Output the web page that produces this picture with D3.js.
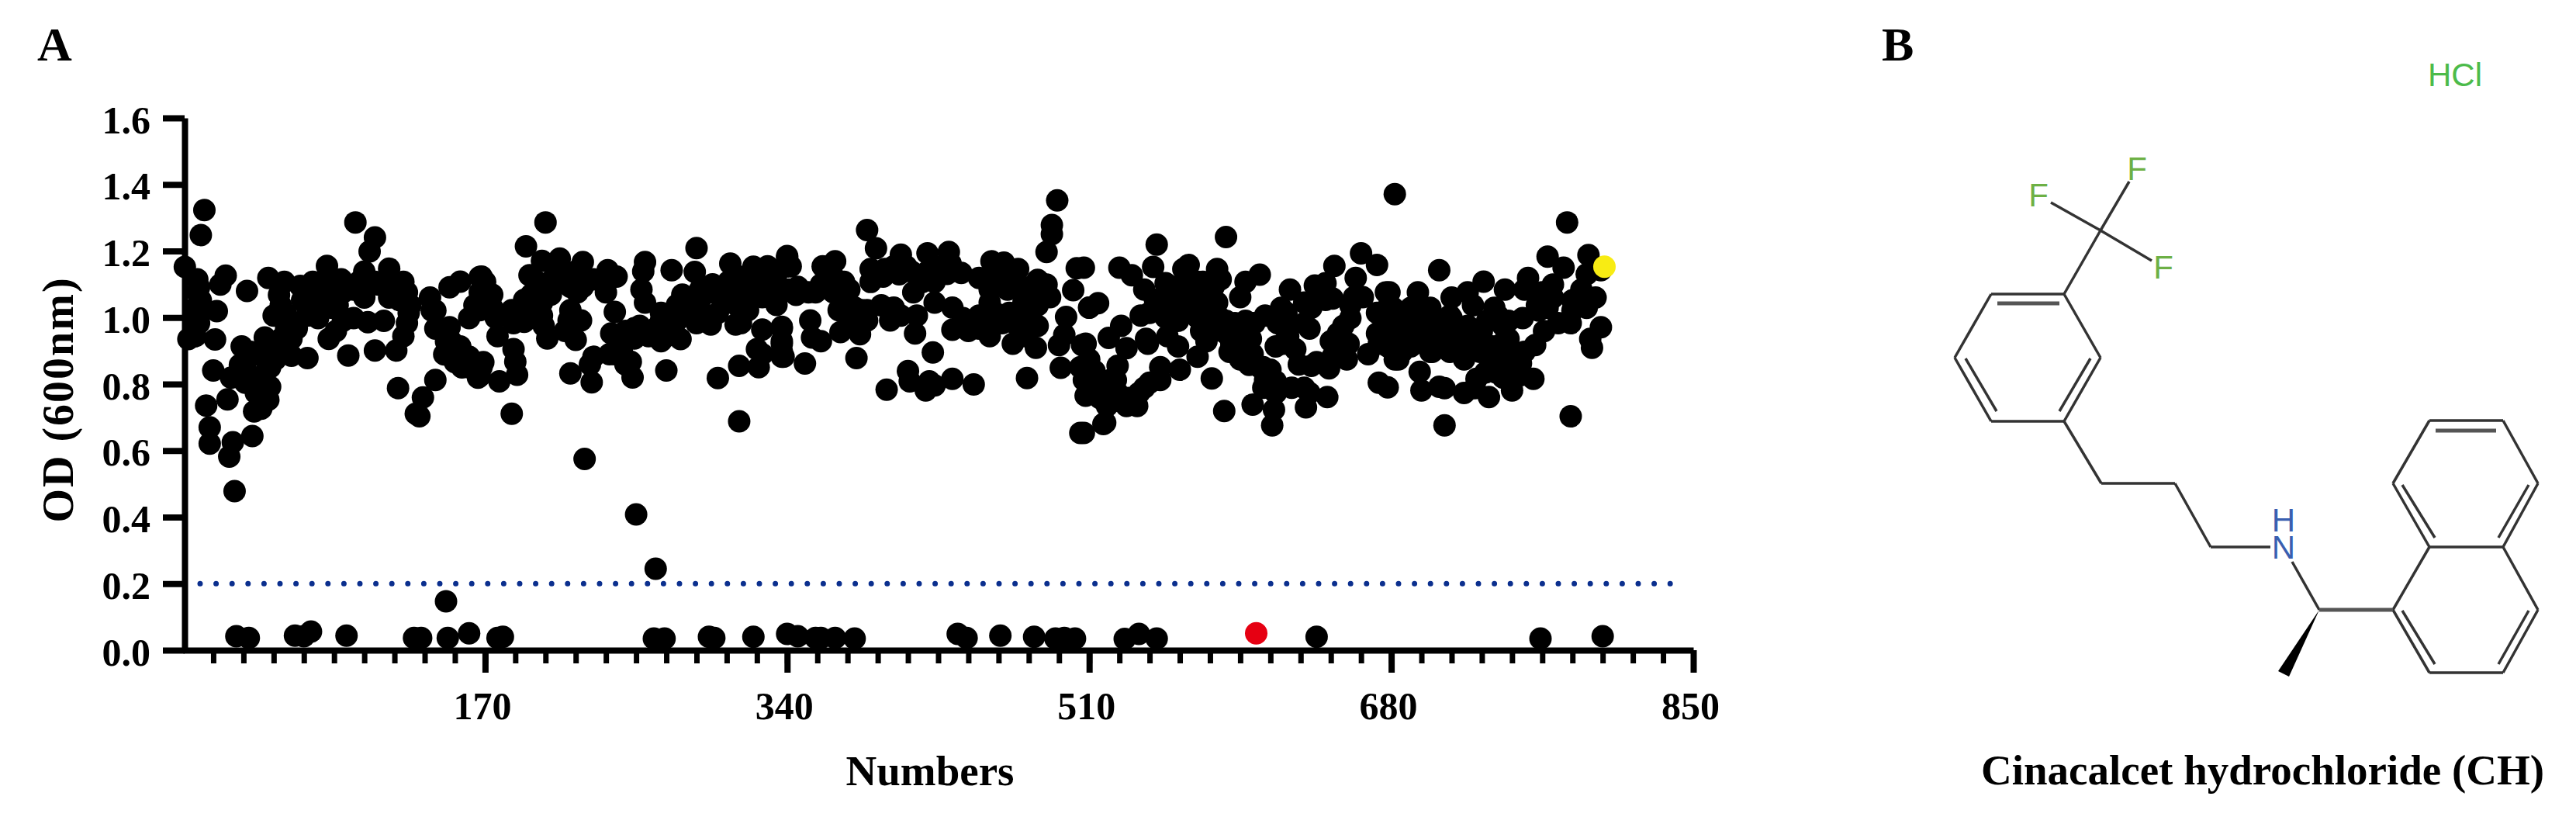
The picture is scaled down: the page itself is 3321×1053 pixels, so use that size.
<!DOCTYPE html>
<html>
<head>
<meta charset="utf-8">
<script src="https://cdn.jsdelivr.net/npm/d3@7"></script>
<style>
  html, body { margin: 0; padding: 0; background: #fff; }
  svg { display: block; }
</style>
</head>
<body>
<div id="chart"></div>
<script>
// [number, OD600], one list per stretch of the x axis
const hits0to170 = [[12,1.323],[10,1.248],[1,1.152],[9,1.091],[10,1.052],[8,1.076],[24,1.126],[21,1.099],[36,1.08],[19,1.019],[9,.983],[6,.983],[3,.935],[18,.934],[17,.841],[13,.735],[25,.754],[15,.67],[15,.621],[28,.625],[26,.582],[39,.644],[29,.478],
  [33,.913],[46,.94],[27,.819],[35,.85],[41,.889],[39,.819],[49,.792],[45,.781],[48,.753],[40,.718],[44,.726],[52,.874],[61,.885],[70,.878],[48,1.119],[57,1.107],[54,1.068],[51,1.006],[58,1.01],[64,.967],[61,.936],[57,.905],[48,.913],
  [66,1.095],[73,1.107],[81,1.155],[73,1.06],[78,1.068],[76,.998],[89,1.115],[86,1.068],[102,1.138],[102,1.06],[96,1.084],[116,1.147],[116,1.06],[110,1.099],[124,1.107],[126,1.076],[127,1.014],[82,.936],[86,.959],[90,.99],[96,.998],[104,.986],[113,.99],[93,.886],[108,.901],[120,.901],[124,.944],
  [97,1.286],[108,1.241],[105,1.199],[139,1.06],[140,1.021],[150,1.091],[156,1.108],[167,1.122],[167,1.076],[161,.998],[164,1.037],[142,.967],[150,.971],[151,.928],[147,.889],[153,.866],[158,.889],[166,.85],[166,.819],[142,.812],[121,.788],[135,.76],[133,.703],[131,.711],
  [80,1.029],[84,1.029],[90,1.076],[122,1.052],[80,1.099],[70,1.029],
  [8,1.021],[8,1.115],[7,1.029],[7,.944],[38,.897],[45,.882],[35,.804],[45,.827],[32,.858],[49,.85],[41,.773],[55,.936],[58,.967],[55,1.037],[67,1.052],[84,1.107],[78,1.107],[70,1.006],[87,1.037],[76,1.037],[108,1.107],[119,1.099],[99,1.107],[125,1.052],[121,1.068],[128,1.037],[126,.983],[142,1.021],[148,.928],[156,.913],[161,.882],[151,.897],[157,.85],[161,.85],[169,.866],[170,1.107],[170,1.037]];

const hits170to340 = [[204,1.286],[193,1.214],[202,1.17],[212,1.177],[225,1.167],[195,1.127],[239,1.142],[244,1.123],[260,1.167],[259,1.139],[275,1.142],[288,1.137],[289,1.209],[308,1.162],[321,1.153],[329,1.154],[340,1.181],[168,1.123],[174,1.069],[167,1.022],[185,1.022],[192,.987],[177,.944],[186,.905],[187,.867],[188,.828],[178,.808],[167,.824],[168,.851],
  [205,.937],[202,1.006],[196,1.069],[208,1.115],[202,1.084],[218,1.131],[222,1.076],[218,1.022],[224,.991],[221,.933],[215,.96],[238,1.076],[231,1.115],[243,1.017],[241,.952],[231,.882],[229,.859],[230,.805],[218,.832],[240,.89],[247,.898],[252,.867],[253,.82],[254,.968],[262,.944],[272,.944],[280,.935],[272,.841],[301,.818],[313,.688],[185,.711],[226,.575],
  [258,1.084],[260,1.045],[269,.991],[281,1.069],[281,1.007],[289,.983],[297,.979],[311,.979],[291,1.053],[298,1.076],[307,1.108],[307,1.045],[318,1.108],[318,1.022],[313,1.069],[330,1.1],[326,1.061],[334,1.038],[340,1.154],[341,1.084],[326,.964],[337,.972],[323,.905],[326,.89],[324,.851],[313,.855],[337,.898],[337,.929],[337,.882],
  [174,1.03],[182,1.006],[189,1.022],[196,1.006],[170,1.069],[176,.999],[192,1.053],[202,1.045],[186,.983],[203,.975],[199,1.108],[211,1.131],[207,1.069],[218,1.092],[225,1.092],[221,1.139],[238,1.108],[217,.991],[249,.96],[257,.975],[266,.968],[275,.96],[246,.929],[254,.937],[269,.929],[243,.89],[249,.859],
  [283,1.038],[292,1.014],[301,1.014],[298,1.1],[305,1.076],[313,1.03],[318,1.061],[327,1.1],[321,1.123],[313,1.123],[334,1.131],[278,.991],[269,1.014],[278,1.038],[291,1.084],[314,.983]];

const hits340to510 = [[492,1.352],[489,1.278],[489,1.251],[486,1.197],[503,1.148],[501,1.082],[385,1.263],[390,1.208],[340,1.185],[360,1.154],[367,1.169],[404,1.189],[419,1.193],[431,1.197],[387,1.146],[455,1.169],[462,1.165],[470,1.146],[481,1.113],[486,1.099],[488,1.061],[448,1.119],[438,1.134],[407,1.154],[395,1.146],[423,1.154],[342,1.154],
  [352,1.076],[345,1.068],[359,1.099],[372,1.107],[366,1.076],[378,1.03],[369,1.022],[385,1.022],[390,1.123],[400,1.03],[398,.991],[411,1.076],[416,1.107],[423,1.045],[413,1.006],[430,1.131],[412,.952],[370,.956],[381,.95],[378,.983],[433,1.03],[433,.963],[442,.96],[454,.944],[448,1.006],[439,.998],[457,1.014],[465,1.014],[473,1.014],[468,.983],[481,.975],[467,.921],[480,.909],[474,.944],[454,1.084],[462,1.107],[473,1.084],[477,1.061],
  [353,.991],[354,.94],[359,.929],[350,.862],[379,.878],[422,.895],[408,.839],[396,.783],[409,.808],[420,.808],[418,.781],[423,.796],[433,.816],[445,.799],[475,.818],[494,.849],[497,1.002],[496,.948],[493,.917],[506,.917],[505,.851],[508,.765],[505,.653],[337,.967],[337,.921],[338,.882],[510,1.03],[510,.874],
  [346,1.092],[356,1.076],[337,1.076],[366,1.123],[375,1.084],[372,1.045],[382,1.022],[393,1.037],[375,.983],[385,.991],[400,1.154],[410,1.138],[419,1.138],[428,1.146],[432,1.162],[403,1.13],[394,1.123],[387,1.107],[423,1.107],[404,1.006],[451,.983],[459,.998],[448,.967],[473,.983],[477,.998],[454,1.045],[464,1.084],[468,1.107],[477,1.092],[483,1.068],[465,1.123],[457,1.123],[473,1.045],[481,1.037],[461,.983]];

const hits510to680 = [[682,1.371],[548,1.219],[587,1.242],[527,1.15],[534,1.127],[546,1.152],[541,1.084],[553,1.103],[563,1.146],[566,1.158],[582,1.146],[584,1.115],[606,1.129],[598,1.107],[595,1.061],[623,1.084],[637,1.096],[643,1.103],[648,1.155],[663,1.193],[672,1.158],[660,1.119],[677,1.076],[647,1.057],[664,1.061],[657,1.037],[515,1.043],[510,1.03],[507,1.15],
  [528,.975],[521,.939],[508,.921],[531,.908],[539,1.006],[542,.936],[543,.921],[554,.944],[560,.913],[550,1.045],[560,1.022],[571,1.107],[569,1.045],[577,1.053],[583,1.002],[576,.96],[576,.929],[571,.882],[561,.843],[550,.851],[550,.812],[526,.855],[525,.812],[513,.839],[509,.859],[512,.796],[519,.773],[526,.773],[537,.734],[541,.789],[531,.734],[519,.684],[518,.68],[507,.653],
  [579,.817],[586,.719],[602,.738],[614,.723],[613,.676],[632,.73],[644,.761],[631,.789],[624,.789],[608,.789],[615,.808],[608,.851],[602,.89],[589,.897],[595,.952],[601,.983],[609,1.006],[618,1.029],[619,.975],[622,.944],[626,.905],[615,.913],[634,.967],[635,1.029],[628,.859],[635,.855],[645,.847],[655,.874],[653,.921],[646,.929],[653,.975],[667,.89],[672,.952],[676,.983],[673,.804],[682,.874],[678,1.029],[587,.99],
  [516,.796],[522,.812],[516,.758],[525,.75],[532,.758],[507,.812],[538,.773],[520,.734],[513,.773],[544,.804],[547,1.053],[554,1.045],[544,1.014],[553,1.0],[563,1.053],[566,1.092],[574,1.107],[580,1.092],[573,1.053],[582,1.045],[571,1.0],[577,1.0],[573,.96],[580,.96],[557,1.092],[560,.99],[587,.952],[590,.921],[595,.913],[601,.936],[600,.858],[606,.851],[612,.843],[595,.874],[592,.983],[598,.99],[603,.983],[616,.983],[621,1.014],[619,.921],[631,.983],[638,1.053],[643,1.053],[631,1.045],[650,.952],[656,.921],[638,.866],[647,.882],[657,.998],[659,1.061],[672,1.014],[673,.921],[680,.998],[680,.952],[634,.773],[609,.812],[615,.773]];

const hits680to800 = [[779,1.286],[707,1.142],[768,1.183],[777,1.15],[791,1.188],[798,1.142],[732,1.108],[744,1.084],[757,1.119],[755,1.084],[771,1.099],[771,1.06],[790,1.13],[787,1.084],[795,1.06],[790,1.029],[782,1.052],[781,.983],[695,1.076],[679,1.076],[714,1.06],[723,1.076],[726,1.037],[738,1.029],[754,.998],[763,1.021],[766,.959],[761,.917],[743,.975],[742,.92],[798,.971],[792,.936],[793,.909],[781,.703],[710,.676],
  [696,.837],[697,.781],[707,.792],[710,.788],[721,.773],[728,.816],[735,.761],[736,.843],[748,.781],[760,.816],[753,.862],[749,.827],[736,.882],[721,.874],[703,.897],[684,.874],[678,.79],[686,1.006],[686,.936],[695,1.006],[702,1.029],[702,.959],[713,1.006],[713,.944],[723,.975],[721,.913],[731,.959],[730,.897],[746,.936],[747,.866],[739,.835],[678,.975],[678,.913],[683,.959],[695,.936],
  [681,1.029],[681,.936],[691,1.029],[691,.975],[691,.913],[699,.983],[699,.928],[708,.975],[708,.913],[717,.951],[714,.998],[726,.936],[713,.897],[728,.928],[702,.897],[686,.897],[737,.913],[746,.897],[755,.897],[742,.866],[750,.882],[733,.835],[743,.819],[753,.827],[727,.788],[734,.99],[740,1.006],[746,.99],[768,1.029],[765,1.076],[762,1.037],[774,.983],[782,1.021],[788,1.052]];

const hitsLow = [[30,.042],[37,.037],[63,.044],[72,.056],[68,.042],[92,.044],[130,.037],[134,.037],[149,.037],[148,.147],[161,.051],[177,.037],[180,.04],[255,.408],[266,.245],[265,.035],[271,.035],[296,.04],[299,.037],[321,.04],[340,.049],[346,.042],[356,.037],[359,.037],[367,.037],[378,.035],
  [436,.049],[441,.037],[460,.044],[479,.04],[491,.035],[496,.037],[502,.035],[530,.034],[538,.049],[548,.035],[638,.04],[764,.035],[799,.042]];

const hitRed = [[604,.051]];
const hitYellow = [[800,1.153]];

const xMajor = [170, 340, 510, 680, 850];
const yTicks = [0, .2, .4, .6, .8, 1, 1.2, 1.4, 1.6];
const cutoffOD = .2;
const cutoffSpan = [9.6, 844.7];

// structure drawing, in its own units
const bonds = [[[208,197],[245,134]],[[208,197],[144,161]],[[208,197],[274,236]],[[208,197],[161,279]],
  [[161,279],[67,279]],[[67,279],[20,361]],[[20,361],[67,443]],[[67,443],[161,443]],[[161,443],[208,361]],[[208,361],[161,279]],
  [[34,362],[74,430]],[[195,362],[155,430]],
  [[161,443],[209,523]],[[209,523],[304,523]],[[304,523],[350,605]],[[350,605],[427,605]],[[455,624],[490,686]],
  [[585,686],[632,605]],[[632,605],[727,605]],[[727,605],[772,686]],[[772,686],[727,767]],[[727,767],[632,767]],[[632,767],[585,686]],
  [[632,605],[585,523]],[[585,523],[632,442]],[[632,442],[727,442]],[[727,442],[772,523]],[[772,523],[727,605]],
  [[597,525],[639,593]],[[760,525],[721,593]],[[597,687],[639,756]],[[760,687],[721,756]]];
const heavyBonds = [[[490,686],[585,686]],[[75,291],[155,291]],[[640,455],[718,455]]];
const wedge = [[490,686],[437,765],[451,772]];
const atoms = [
  { t: "F", p: [255,132], c: "#6db045" }, { t: "F", p: [128,166], c: "#6db045" }, { t: "F", p: [289,259], c: "#6db045" },
  { t: "HCl", p: [665,11], c: "#4cbb4a" }];
const amine = { lines: ["H", "N"], p: [444,585], c: "#3a5fb0" };

const allHits = [...hits0to170, ...hits170to340, ...hits340to510, ...hits510to680, ...hits680to800, ...hitsLow];

const serif = "'Liberation Serif', 'Times New Roman', serif";
const svg = d3.select("#chart").append("svg")
  .attr("width", 3321).attr("height", 1053)
  .style("background", "#fff");

const x = d3.scaleLinear().domain([0, 850]).range([236, 2183]);
const y = d3.scaleLinear().domain([0, 1.6]).range([838, 152]);

// x axis: minor ticks every 17, labelled ones every 170
const xMinor = svg.append("g").attr("transform", "translate(0,838)")
  .call(d3.axisBottom(x).tickValues(d3.range(17, 850, 17)).tickSize(17).tickFormat("").tickSizeOuter(0));
xMinor.select(".domain").remove();
xMinor.selectAll("line").attr("stroke", "#000").attr("stroke-width", 7);

const xAxis = svg.append("g").attr("transform", "translate(0,838)")
  .call(d3.axisBottom(x).tickValues(xMajor).tickSize(29).tickPadding(24).tickFormat(d3.format("d")).tickSizeOuter(0));
xAxis.select(".domain").attr("stroke", "#000").attr("stroke-width", 8);
xAxis.selectAll("line").attr("stroke", "#000").attr("stroke-width", 8);
xAxis.selectAll("text").attr("dx", -4).attr("fill", "#000")
  .style("font", `bold 50px ${serif}`);

// y axis
const yAxis = svg.append("g").attr("transform", "translate(238,0)")
  .call(d3.axisLeft(y).tickValues(yTicks).tickSize(28).tickPadding(16).tickFormat(d3.format(".1f")).tickSizeOuter(0));
yAxis.select(".domain").attr("stroke", "#000").attr("stroke-width", 8);
yAxis.selectAll("line").attr("stroke", "#000").attr("stroke-width", 8);
yAxis.selectAll("text").attr("dy", "0.38em").attr("fill", "#000")
  .style("font", `bold 50px ${serif}`);

// cutoff line
svg.append("line")
  .attr("x1", x(cutoffSpan[0])).attr("x2", x(cutoffSpan[1]))
  .attr("y1", y(cutoffOD)).attr("y2", y(cutoffOD))
  .attr("stroke", "#0b2f8e").attr("stroke-width", 7)
  .attr("stroke-linecap", "round").attr("stroke-dasharray", "0 20.6");

// points
function dots(rows, colour) {
  svg.append("g").selectAll("circle").data(rows).enter().append("circle")
    .attr("cx", d => x(d[0])).attr("cy", d => y(d[1])).attr("r", 14.5).attr("fill", colour);
}
dots(allHits, "#000");
dots(hitRed, "#e60012");
dots(hitYellow, "#f8ec13");

// chart text
function label(txt, px, py, size) {
  return svg.append("text").attr("x", px).attr("y", py).text(txt)
    .attr("fill", "#000").style("font", `bold ${size}px ${serif}`);
}
label("A", 48, 78, 62);
label("B", 2426, 78, 62);
label("Numbers", 1199, 1012, 55).attr("text-anchor", "middle");
label("OD (600nm)", 0, 0, 56).attr("text-anchor", "middle")
  .attr("transform", "translate(94,515) rotate(-90)").style("letter-spacing", "2px");
label("Cinacalcet hydrochloride (CH)", 2554, 1011, 55);

// structure
const mx = d3.scaleLinear().domain([0, 800]).range([2500, 3300]);
const my = d3.scaleLinear().domain([0, 800]).range([100, 900]);
const bond = d3.line().x(d => mx(d[0])).y(d => my(d[1]));
const mol = svg.append("g");
mol.selectAll("path.bond").data(bonds).enter().append("path").attr("class", "bond")
  .attr("d", bond).attr("fill", "none").attr("stroke", "#333").attr("stroke-width", 3.5);
mol.selectAll("path.heavy").data(heavyBonds).enter().append("path").attr("class", "heavy")
  .attr("d", bond).attr("fill", "none").attr("stroke", "#555").attr("stroke-width", 5);
mol.append("path").attr("d", bond(wedge) + "Z").attr("fill", "#000");
const molFont = "42px 'Liberation Sans', Arial, sans-serif";
mol.selectAll("text.atom").data(atoms).enter().append("text").attr("class", "atom")
  .attr("x", d => mx(d.p[0])).attr("y", d => my(d.p[1]))
  .attr("text-anchor", "middle").attr("fill", d => d.c)
  .style("font", molFont)
  .text(d => d.t);
// H stacked over N as one label
mol.append("text").attr("x", mx(amine.p[0])).attr("y", my(amine.p[1]))
  .attr("text-anchor", "middle").attr("fill", amine.c).style("font", molFont)
  .selectAll("tspan").data(amine.lines).enter().append("tspan")
  .attr("x", mx(amine.p[0])).attr("dy", (d, i) => i ? 35 : 0).text(d => d);
</script>
</body>
</html>
